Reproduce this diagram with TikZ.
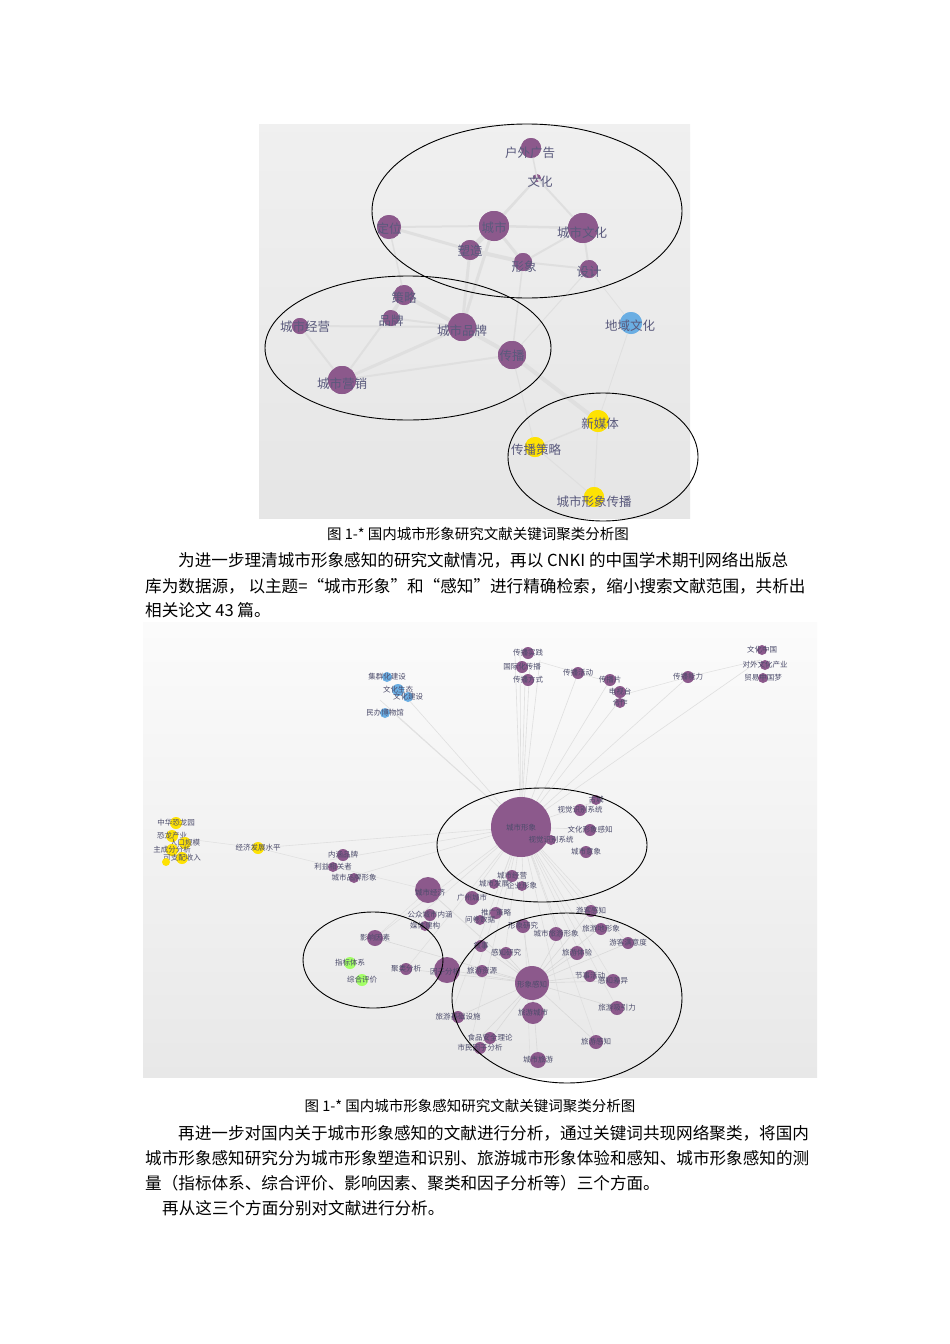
\documentclass[tikz,border=0pt]{standalone}
\usepackage{fontspec}
\setmainfont{Liberation Serif}
\newfontfamily\cjk{Noto Sans CJK SC}
\begin{document}
\begin{tikzpicture}[x=1pt,y=-1pt,
  kwp/.style={circle,fill=violet!45!gray!90!white,inner sep=0pt},
  kwb/.style={circle,fill=cyan!70!blue!60!white,inner sep=0pt},
  kwy/.style={circle,fill=yellow!85!orange,inner sep=0pt},
  kwg/.style={circle,fill=green!60!yellow!60!white,inner sep=0pt},
  lab/.style={font=\cjk\fontsize{12.5}{12.5}\selectfont,text=black!55!blue!30!gray,inner sep=0pt},
  sl/.style={font=\cjk\fontsize{7.5}{7.5}\selectfont,text=black!70!blue!40!gray,inner sep=0pt},
  edg/.style={draw=gray!25,line width=#1},
  edg/.default=1.2pt,
  clu/.style={draw=black,line width=0.9pt},
  body/.style={font=\cjk\fontsize{16.6}{16.6}\selectfont,anchor=west,inner sep=0pt}]
\useasboundingbox (0,0) rectangle (950,1344);
\fill[white] (0,0) rectangle (950,1344);
% ---------- graph 1 ----------
\shade[top color=gray!12,bottom color=gray!20] (259,124) rectangle (690,518);
\def\kn#1#2#3#4{\node[#4,minimum size=#3*2pt] (#1) at (#2) {};}
\kn{a1}{531,148}{10}{kwp}
\kn{a2}{537,178}{4}{kwp}
\kn{a3}{494,226}{15}{kwp}
\kn{a4}{583,228}{15}{kwp}
\kn{a5}{389,227}{12}{kwp}
\kn{a6}{470,250}{10}{kwp}
\kn{a7}{523,262}{9}{kwp}
\kn{a8}{589,269}{9}{kwp}
\kn{a9}{404,295}{10}{kwp}
\kn{a10}{391,318}{8}{kwp}
\kn{a11}{300,326}{8}{kwp}
\kn{a12}{462,327}{14}{kwp}
\kn{a13}{512,355}{14}{kwp}
\kn{a14}{342,380}{14}{kwp}
\kn{a15}{631,323}{11}{kwb}
\kn{a16}{598,421}{11}{kwy}
\kn{a17}{535,447}{10}{kwy}
\kn{a18}{594,497}{10}{kwy}
\foreach \p/\q/\w in {a1/a2/1.5,a2/a3/2,a2/a4/2,a3/a4/2.5,a3/a6/5,a3/a7/3,a4/a7/2,a4/a8/2,a5/a6/3,a5/a3/2,a6/a7/4,a2/a6/2,a7/a8/2,a3/a12/3,a6/a12/3,a9/a12/4,a10/a12/2,a9/a10/2,a11/a12/2,a11/a14/2,a12/a14/3,a12/a13/4,a13/a16/4,a14/a13/2,a9/a14/2,a13/a17/1,a16/a17/1.5,a16/a18/1,a17/a18/1,a15/a16/0.8,a15/a8/0.8,a7/a13/1.5,a5/a9/1.5,a8/a13/1}
  \draw[edg=\w pt] (\p.center) -- (\q.center);
\kn{b1}{531,148}{10}{kwp}\kn{b3}{494,226}{15}{kwp}\kn{b4}{583,228}{15}{kwp}\kn{b5}{389,227}{12}{kwp}
\kn{b6}{470,250}{10}{kwp}\kn{b7}{523,262}{9}{kwp}\kn{b8}{589,269}{9}{kwp}\kn{b9}{404,295}{10}{kwp}
\kn{b10}{391,318}{8}{kwp}\kn{b11}{300,326}{8}{kwp}\kn{b12}{462,327}{14}{kwp}\kn{b13}{512,355}{14}{kwp}
\kn{b14}{342,380}{14}{kwp}\kn{b15}{631,323}{11}{kwb}\kn{b16}{598,421}{11}{kwy}\kn{b17}{535,447}{10}{kwy}\kn{b18}{594,497}{10}{kwy}
\node[lab] (l1) at (530,153) {户外广告};
\node[lab] (l2) at (540,182) {文化};
\node[lab] (l3) at (494,228) {城市};
\node[lab] (l4) at (582,233) {城市文化};
\node[lab] (l5) at (389,229) {定位};
\node[lab] (l6) at (470,251) {塑造};
\node[lab] (l7) at (524,267) {形象};
\node[lab] (l8) at (589,272) {设计};
\node[lab] (l9) at (404,298) {策略};
\node[lab] (l10) at (391,321) {品牌};
\node[lab] (l11) at (305,327) {城市经营};
\node[lab] (l12) at (462,331) {城市品牌};
\node[lab] (l13) at (512,356) {传播};
\node[lab] (l14) at (342,384) {城市营销};
\node[lab] (l15) at (630,326) {地域文化};
\node[lab] (l16) at (600,424) {新媒体};
\node[lab] (l17) at (536,450) {传播策略};
\node[lab] (l18) at (594,502) {城市形象传播};
\draw[clu] (527,211) ellipse (155 and 87);
\draw[clu] (408,348) ellipse (143 and 72);
\draw[clu] (603,457) ellipse (95 and 64);
% ---------- text ----------
\node[font=\cjk\fontsize{14.5}{14.5}\selectfont,inner sep=0pt] (c1) at (478,534) {图 1-* 国内城市形象研究文献关键词聚类分析图};
\node[body] (p1) at (178,560) {为进一步理清城市形象感知的研究文献情况，再以 CNKI 的中国学术期刊网络出版总};
\node[body] (p2) at (145,586) {库为数据源， 以主题=“城市形象”和“感知”进行精确检索，缩小搜索文献范围，共析出};
\node[body] (p3) at (145,610) {相关论文 43 篇。};
% ---------- graph 2 ----------
\shade[top color=gray!3,bottom color=gray!18] (143,622) rectangle (817,1077);
\coordinate (hub) at (521,827);
\foreach \x/\y in {520/650, 525/680, 540/660, 578/673, 610/680, 620/700, 688/677, 760/660, 400/690, 390/710, 380/700, 330/860, 350/877, 258/848, 600/800, 610/830, 560/1000, 470/1045, 530/1060, 596/1042, 617/1008, 628/943, 450/1017, 420/915, 470/898, 406/969, 375/938, 597/930, 591/911, 560/933, 505/953, 477/970, 540/875, 500/883, 580/953, 613/981, 515/655, 530/665}
  \draw[gray!25,line width=0.6pt] (hub) -- (\x,\y);
\coordinate (hub2) at (532,983);
\foreach \x/\y in {533/1013, 538/1062, 596/1042, 617/1008, 613/981, 588/976, 577/953, 628/943, 597/930, 591/911, 560/933, 523/927, 505/953, 479/945, 477/970, 457/1017, 490/1040, 470/1048, 447/970, 406/969, 375/938, 428/890}
  \draw[gray!30,line width=0.6pt] (hub2) -- (\x,\y);
\coordinate (k1) at (258,848); \coordinate (k2) at (180,838); \coordinate (k3) at (428,890);
\coordinate (k4) at (688,677); \coordinate (k5) at (760,660); \coordinate (k6) at (578,673);
\coordinate (k7) at (540,662); \coordinate (k8) at (610,682); \coordinate (k9) at (622,695);
\draw[gray!25,line width=0.5pt] (k1) -- (k2) (k1) -- (k3) (k4) -- (k5) (k6) -- (k7) (k6) -- (k8) (k4) -- (k9) (k3) -- (hub2) (k3) -- (375,938);
\node[kwp,minimum size=60pt] (n1) at (521,827) {};
\node[sl] at (521,828) {城市形象};
\node[kwp,minimum size=34pt] (n2) at (532,983) {};
\node[sl] at (532,985) {形象感知};
\node[kwp,minimum size=26pt] (n3) at (447,970) {};
\node[sl] at (445,972) {因子分析};
\node[kwp,minimum size=26pt] (n4) at (428,890) {};
\node[sl] at (430,893) {城市经济};
\node[kwp,minimum size=22pt] (n5) at (533,1013) {};
\node[sl] at (533,1013) {旅游城市};
\def\sn#1#2#3#4#5{\node[#4,minimum size=#3pt] (#1) at (#2) {}; \node[sl] at (#2) {#5};}
\sn{m1}{538,1060}{16}{kwp}{城市旅游}
\sn{m2}{596,1042}{14}{kwp}{旅游感知}
\sn{m3}{617,1008}{14}{kwp}{旅游吸引力}
\sn{m4}{613,981}{14}{kwp}{感知差异}
\sn{m5}{590,976}{12}{kwp}{节事活动}
\sn{m6}{577,953}{14}{kwp}{旅游体验}
\sn{m7}{628,943}{12}{kwp}{游客满意度}
\sn{m8}{601,929}{12}{kwp}{旅游地形象}
\sn{m9}{591,911}{12}{kwp}{游客感知}
\sn{m10}{556,934}{14}{kwp}{城市旅游形象}
\sn{m11}{523,926}{14}{kwp}{形象研究}
\sn{m12}{506,953}{12}{kwp}{感知研究}
\sn{m13}{481,946}{12}{kwp}{叙事}
\sn{m14}{482,971}{12}{kwp}{旅游资源}
\sn{m15}{458,1017}{12}{kwp}{旅游基础设施}
\sn{m16}{490,1038}{12}{kwp}{食品安全理论}
\sn{m17}{480,1048}{12}{kwp}{市民因子分析}
\sn{m18}{375,938}{16}{kwp}{影响因素}
\sn{m19}{350,963}{12}{kwg}{指标体系}
\sn{m20}{362,980}{12}{kwg}{综合评价}
\sn{m21}{406,969}{12}{kwp}{聚类分析}
\sn{m22}{472,898}{14}{kwp}{广州城市}
\sn{m23}{496,913}{12}{kwp}{推广策略}
\sn{m24}{480,920}{10}{kwp}{问卷数据}
\sn{m25}{512,876}{12}{kwp}{城市经营}
\sn{m26}{494,884}{10}{kwp}{城市发展}
\sn{m27}{522,886}{10}{kwp}{企业形象}
\sn{m28}{430,915}{12}{kwp}{公众城市内涵}
\sn{m29}{425,926}{10}{kwp}{媒体建构}
\sn{m30}{343,855}{12}{kwp}{内涵品牌}
\sn{m31}{333,867}{10}{kwp}{利益相关者}
\sn{m32}{354,878}{10}{kwp}{城市品牌形象}
\sn{m33}{258,848}{12}{kwy}{经济发展水平}
\sn{m34}{176,823}{12}{kwy}{中华恐龙园}
\sn{m35}{172,836}{12}{kwy}{恐龙产业}
\sn{m36}{185,843}{12}{kwy}{人口规模}
\sn{m37}{172,850}{12}{kwy}{主成分分析}
\sn{m38}{182,858}{12}{kwy}{可支配收入}
\sn{m39}{166,862}{8}{kwy}{}
\sn{m40}{580,810}{12}{kwp}{视觉识别系统}
\sn{m41}{590,830}{12}{kwp}{文化形象感知}
\sn{m42}{586,852}{12}{kwp}{城市意象}
\sn{m43}{596,800}{10}{kwp}{古城}
\sn{m44}{551,840}{10}{kwp}{视觉识别系统}
\sn{m45}{398,690}{12}{kwb}{文化生态}
\sn{m46}{387,677}{10}{kwb}{集群化建设}
\sn{m47}{408,697}{10}{kwb}{文化建设}
\sn{m48}{385,713}{10}{kwb}{民办博物馆}
\sn{m49}{528,653}{12}{kwp}{传播实践}
\sn{m50}{522,667}{12}{kwp}{国际化传播}
\sn{m51}{528,680}{12}{kwp}{传播方式}
\sn{m52}{578,673}{12}{kwp}{传播活动}
\sn{m53}{610,680}{12}{kwp}{传播片}
\sn{m54}{620,692}{12}{kwp}{电视台}
\sn{m55}{620,703}{10}{kwp}{合作}
\sn{m56}{688,677}{12}{kwp}{传播能力}
\sn{m57}{762,650}{10}{kwp}{文化中国}
\sn{m58}{765,665}{10}{kwp}{对外文化产业}
\sn{m59}{763,678}{10}{kwp}{贸易中国梦}
\draw[clu] (542,845) ellipse (105 and 57);
\draw[clu] (567,998) ellipse (115 and 85);
\draw[clu] (373,960) ellipse (70 and 48);
% ---------- text ----------
\node[font=\cjk\fontsize{14.5}{14.5}\selectfont,inner sep=0pt] (c2) at (470,1106) {图 1-* 国内城市形象感知研究文献关键词聚类分析图};
\node[body] (q1) at (178,1133) {再进一步对国内关于城市形象感知的文献进行分析，通过关键词共现网络聚类，将国内};
\node[body] (q2) at (145,1158) {城市形象感知研究分为城市形象塑造和识别、旅游城市形象体验和感知、城市形象感知的测};
\node[body] (q3) at (145,1183) {量（指标体系、综合评价、影响因素、聚类和因子分析等）三个方面。};
\node[body] (q4) at (162,1208) {再从这三个方面分别对文献进行分析。};
\end{tikzpicture}
\end{document}
